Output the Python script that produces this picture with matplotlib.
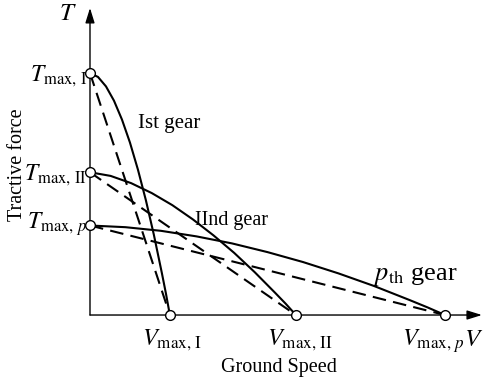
import matplotlib
matplotlib.use("Agg")
import matplotlib.pyplot as plt

plt.rcParams["font.family"] = ["Liberation Serif", "DejaVu Serif"]
plt.rcParams["mathtext.fontset"] = "stix"

# max tractive force per gear (T_max,I = 100) and top speed per gear (V_max,p = 100)
gears = ["I", "II", "p"]
t_max = [100, 59, 37]
v_max = [22.5, 58, 100]

v_gear1 = [0, 2.25, 4.5, 6.75, 9.0, 11.25, 13.5, 15.75, 18.0, 20.25, 21.4, 22.5]
t_gear1 = [100, 98.4, 94.5, 88.6, 80.8, 71.3, 60.1, 47.4, 33.1, 17.3, 8.8, 0]
v_gear2 = [0, 5.8, 11.6, 17.4, 23.2, 29.0, 34.8, 40.6, 46.4, 52.2, 55.1, 58]
t_gear2 = [59, 57.5, 54.5, 50.4, 45.4, 39.5, 32.9, 25.7, 17.7, 9.1, 4.7, 0]
v_gearp = [0, 10, 20, 30, 40, 50, 60, 70, 80, 90, 95, 100]
t_gearp = [37, 36.3, 34.8, 32.5, 29.6, 26.0, 21.9, 17.2, 12.0, 6.2, 3.2, 0]

t_labels = [r"$T_{\mathrm{max,\,I}}$", r"$T_{\mathrm{max,\,II}}$", r"$T_{\mathrm{max,}\,p}$"]
v_labels = [r"$V_{\mathrm{max,\,I}}$", r"$V_{\mathrm{max,\,II}}$", r"$V_{\mathrm{max,}\,p}$"]

fig = plt.figure(figsize=(4.83, 3.87), dpi=100)
ax = fig.add_axes([0, 0, 1, 1])
ax.set_xlim(-25.35, 110.7)
ax.set_ylim(-29.75, 130.2)
ax.axis("off")

# axes with arrows
arrow = dict(arrowstyle="-|>,head_length=0.9,head_width=0.28", mutation_scale=10,
             lw=1.0, color="black", shrinkA=0, shrinkB=0)
ax.annotate("", xy=(110.4, 0), xytext=(0, 0), arrowprops=arrow)
ax.annotate("", xy=(0, 126.9), xytext=(0, 0), arrowprops=arrow)

# dashed straight approximations
dash = (0, (6.5, 3.5))
for t, v in zip(t_max, v_max):
    ax.plot([0, v], [t, 0], color="black", lw=1.5, linestyle=dash, zorder=3)

# solid traction curves
for v, t in [(v_gear1, t_gear1), (v_gear2, t_gear2), (v_gearp, t_gearp)]:
    ax.plot(v, t, color="black", lw=1.5, solid_joinstyle="round", zorder=3)

# endpoint markers
ax.plot([0] * len(t_max), t_max, "o", ms=7, mfc="white", mec="black", mew=1.0, zorder=5, clip_on=False)
ax.plot(v_max, [0] * len(v_max), "o", ms=7, mfc="white", mec="black", mew=1.0, zorder=5, clip_on=False)

# labels on the T axis
for lab, y in zip(t_labels, [96.8, 55.6, 35.8]):
    ax.text(-0.8, y, lab, ha="right", va="baseline", fontsize=17)

# labels on the V axis
for lab, x in zip(v_labels, [14.7, 49.9, 88.0]):
    ax.text(x, -12.6, lab, ha="left", va="baseline", fontsize=17.5)

ax.text(-6.2, 124.4, r"$T$", ha="center", va="center", fontsize=18)
ax.text(105.3, -12.6, r"$V$", ha="left", va="baseline", fontsize=18)

ax.text(53.2, -21.5, "Ground Speed", ha="center", va="center", fontsize=14.5)
ax.text(-20.4, 62.0, "Tractive force", ha="center", va="center", rotation=90, fontsize=14.5)

ax.text(13.5, 77.3, "Ist gear", ha="left", va="baseline", fontsize=15)
ax.text(29.6, 37.2, "IInd gear", ha="left", va="baseline", fontsize=14.5)
ax.text(79.7, 14.5, r"$p_{\mathrm{th}}$" + " gear", ha="left", va="baseline", fontsize=19)

fig.savefig("out.png", dpi=100)
